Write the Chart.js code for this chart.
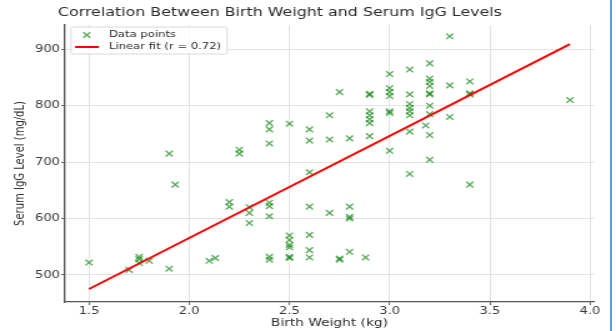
<!DOCTYPE html>
<html><head><meta charset="utf-8">
<script src="https://cdn.jsdelivr.net/npm/chart.js@4.4.1/dist/chart.umd.min.js"></script>
<style>
html,body{margin:0;padding:0;background:#fff;width:616px;height:331px;overflow:hidden;}
#wrap{position:absolute;left:0;top:0;width:493px;height:331px;transform:scaleX(1.2495);transform-origin:0 0;}
#edge{position:absolute;left:610px;top:0;width:2px;height:331px;background:#5b9be0;}
</style></head><body>
<div id="wrap"><canvas id="c" width="493" height="331"></canvas></div>
<div id="edge"></div>
<script>
const chartTitle = "Correlation Between Birth Weight and Serum IgG Levels";
const xLabel = "Birth Weight (kg)";
const yLabel = "Serum IgG Level (mg/dL)";
const legendLabels = ["Data points", "Linear fit (r = 0.72)"];

const birthWeights = [
  1.5, 1.7, 1.75, 1.75, 1.75, 1.8, 1.9, 1.9, 1.93, 2.1, 2.13,
  2.2, 2.2, 2.25, 2.25, 2.3, 2.3, 2.3,
  2.4, 2.4, 2.4, 2.4, 2.4, 2.4, 2.4, 2.4,
  2.5, 2.5, 2.5, 2.5, 2.5, 2.5, 2.5,
  2.6, 2.6, 2.6, 2.6, 2.6, 2.6, 2.6,
  2.7, 2.7, 2.7, 2.75, 2.75, 2.75,
  2.8, 2.8, 2.8, 2.8, 2.8, 2.88,
  2.9, 2.9, 2.9, 2.9, 2.9, 2.9, 2.9,
  3.0, 3.0, 3.0, 3.0, 3.0, 3.0, 3.0,
  3.1, 3.1, 3.1, 3.1, 3.1, 3.1, 3.1, 3.1, 3.18,
  3.2, 3.2, 3.2, 3.2, 3.2, 3.2, 3.2, 3.2, 3.2, 3.2,
  3.3, 3.3, 3.3, 3.4, 3.4, 3.4, 3.4, 3.9
];
const iggLevels = [
  522, 509, 532, 528, 521, 525, 715, 511, 660, 525, 530,
  629, 621, 722, 715, 620, 610, 592,
  769, 758, 733, 628, 622, 604, 532, 527,
  768, 570, 562, 553, 549, 532, 530,
  758, 738, 682, 621, 571, 544, 531,
  783, 740, 610, 824, 529, 527,
  742, 621, 603, 600, 541, 531,
  821, 819, 790, 783, 776, 769, 746,
  856, 831, 824, 817, 790, 787, 720,
  864, 820, 803, 796, 790, 783, 754, 679, 765,
  875, 848, 842, 835, 822, 820, 800, 785, 748, 704,
  923, 836, 780, 843, 822, 820, 660, 810
];
const fitWeights = [1.5, 3.9];
const fitLevels = [475, 909];
const xTickValues = [1.5, 2.0, 2.5, 3.0, 3.5, 4.0];
const yTickValues = [500, 600, 700, 800, 900];

const GREEN = 'rgba(0,128,0,0.66)';
const RED = '#ff0000';
const FONT = "'DejaVu Sans', sans-serif";

const overlay = {
  id: 'overlay',
  afterDraw(chart) {
    const ctx = chart.ctx, a = chart.chartArea;
    ctx.save();
    ctx.fillStyle = '#2b2b2b';
    ctx.font = "12.7px " + FONT;
    ctx.textAlign = 'center';
    ctx.textBaseline = 'middle';
    ctx.fillText(chartTitle, 224, 13);
    ctx.font = "11px " + FONT;
    ctx.fillText(xLabel, (a.left + a.right) / 2, 323);
    ctx.save();
    ctx.translate(16.5, (a.top + a.bottom) / 2);
    ctx.rotate(-Math.PI / 2);
    ctx.font = "10px " + FONT;
    ctx.fillText(yLabel, 0, 0);
    ctx.restore();
    // legend box
    const bx = 56.8, by = 27, bw = 125, bh = 27;
    ctx.beginPath();
    ctx.roundRect(bx, by, bw, bh, 2);
    ctx.fillStyle = 'rgba(255,255,255,0.85)';
    ctx.fill();
    ctx.strokeStyle = '#d0d0d0';
    ctx.lineWidth = 0.8;
    ctx.stroke();
    // marker sample
    ctx.strokeStyle = GREEN;
    ctx.lineWidth = 1.3;
    ctx.beginPath();
    const r = 4 * Math.SQRT1_2;
    ctx.moveTo(69.4 - r, 35 - r); ctx.lineTo(69.4 + r, 35 + r);
    ctx.moveTo(69.4 - r, 35 + r); ctx.lineTo(69.4 + r, 35 - r);
    ctx.stroke();
    // line sample
    ctx.strokeStyle = RED;
    ctx.lineWidth = 2;
    ctx.beginPath();
    ctx.moveTo(60, 47); ctx.lineTo(79.2, 47);
    ctx.stroke();
    ctx.fillStyle = '#2b2b2b';
    ctx.font = "9.3px " + FONT;
    ctx.textAlign = 'left';
    ctx.fillText(legendLabels[0], 87.2, 35);
    ctx.fillText(legendLabels[1], 87.2, 47);
    ctx.restore();
  }
};

new Chart(document.getElementById('c'), {
  type: 'scatter',
  data: {
    datasets: [
      {
        label: legendLabels[1],
        type: 'line',
        data: fitWeights.map((x, i) => ({x: x, y: fitLevels[i]})),
        borderColor: RED,
        borderWidth: 2,
        pointRadius: 0,
        fill: false,
        order: 0
      },
      {
        label: legendLabels[0],
        data: birthWeights.map((x, i) => ({x: x, y: iggLevels[i]})),
        pointStyle: 'crossRot',
        pointRadius: 4,
        pointBorderWidth: 1.3,
        borderColor: GREEN,
        backgroundColor: GREEN,
        order: 1
      }
    ]
  },
  options: {
    responsive: false,
    devicePixelRatio: 1,
    animation: false,
    layout: {padding: {top: 25, right: 17.6, left: 0, bottom: 0}},
    plugins: {legend: {display: false}, tooltip: {enabled: false}, title: {display: false}},
    scales: {
      x: {
        type: 'linear', min: 1.38, max: 4.02,
        afterBuildTicks: s => { s.ticks = xTickValues.map(v => ({value: v})); },
        afterFit: s => { s.height = 29; },
        ticks: {callback: v => Number(v).toFixed(1), color: '#3a3a3a', font: {family: FONT, size: 10.5}, padding: 0, maxRotation: 0},
        grid: {color: '#e3e3e3', lineWidth: 1, tickLength: 3, tickColor: '#666'},
        border: {display: true, color: '#555', width: 1.3}
      },
      y: {
        type: 'linear', min: 452, max: 943,
        afterBuildTicks: s => { s.ticks = yTickValues.map(v => ({value: v})); },
        afterFit: s => { s.width = 52; },
        ticks: {callback: v => String(v), color: '#3a3a3a', font: {family: FONT, size: 10.5}, padding: 1},
        grid: {color: '#e3e3e3', lineWidth: 1, tickLength: 3, tickColor: '#666'},
        border: {display: true, color: '#555', width: 1.3}
      }
    }
  },
  plugins: [overlay]
});
</script>
</body></html>
